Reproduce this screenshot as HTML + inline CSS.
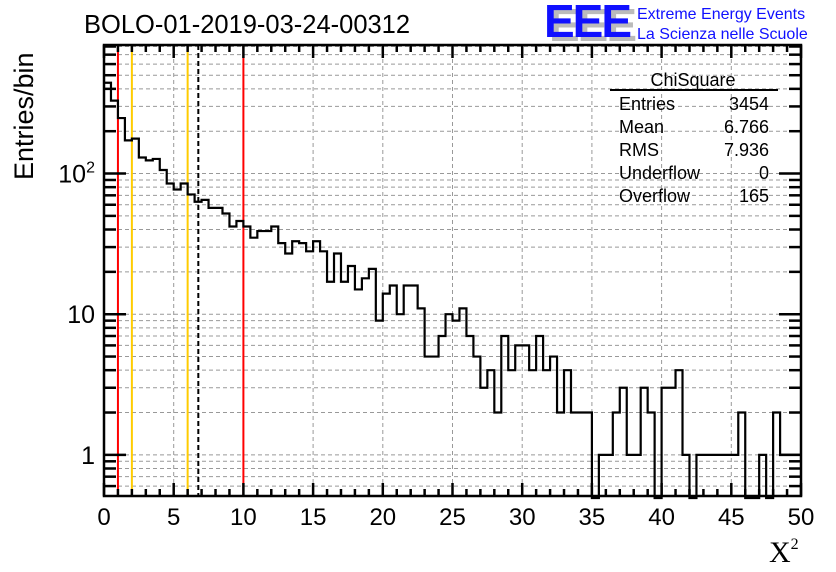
<!DOCTYPE html>
<html><head><meta charset="utf-8"><style>
html,body{margin:0;padding:0;background:#fff;}
svg{display:block;font-family:"Liberation Sans",Arial,sans-serif;}
</style></head><body>
<svg id="chart" width="836" height="572" viewBox="0 0 836 572">
<text x="84" y="33" font-size="25.5">BOLO-01-2019-03-24-00312</text>
<g>
<text x="549" y="41" font-size="46" font-weight="bold" fill="#bbb" letter-spacing="-2">EEE</text>
<text x="544" y="37" font-size="46" font-weight="bold" fill="#1010ff" letter-spacing="-2">EEE</text>
<text x="637" y="19" font-size="16" fill="#1010ff">Extreme Energy Events</text>
<text x="637" y="39" font-size="16" fill="#1010ff">La Scienza nelle Scuole</text>
</g>
<text transform="translate(33,180) rotate(-90)" font-size="27">Entries/bin</text>
<text x="769" y="562" font-size="30" font-family="Liberation Serif,serif">X<tspan font-size="16" dy="-13">2</tspan></text>
<g id="grid"></g><g id="vlines"></g><g id="hist"></g><g id="axes"></g>
<g font-size="18">
<text x="693" y="86" text-anchor="middle">ChiSquare</text>
<line x1="610" y1="90" x2="778" y2="90" stroke="#000" stroke-width="2"/>
<text x="619" y="110">Entries</text><text x="769" y="110" text-anchor="end">3454</text>
<text x="619" y="133">Mean</text><text x="769" y="133" text-anchor="end">6.766</text>
<text x="619" y="156">RMS</text><text x="769" y="156" text-anchor="end">7.936</text>
<text x="619" y="179">Underflow</text><text x="769" y="179" text-anchor="end">0</text>
<text x="619" y="202">Overflow</text><text x="769" y="202" text-anchor="end">165</text>
</g>
</svg>
<script>
const binEdgesMin = 0, binWidth = 0.5;
const counts = [442,330,248,172,177,130,124,127,106,85,77,85,71,63,65,57,57,52,42,46,
42,35,39,39,42,32,27,33,32,28,33,28,17,27,17,22,15,18,21,9,
14,16,10,16,16,11,5,5,7,10,9,11,7,5,3,4,2,7,4,6,
6,4,7,4,5,2,4,2,2,2,0,1,1,2,3,1,1,3,2,0,
3,3,4,1,0,1,1,1,1,1,1,2,0,0,1,0,2,1,1,1];
const refLines = [1,10];
const cutLines = [2,6];
const meanLine = [6.766];
const xTicks = [0,5,10,15,20,25,30,35,40,45,50];
const yLabels = [[1,"1"],[10,"10"],[100,"10²"]];
const NS="http://www.w3.org/2000/svg";
const L=104,R=801,T=45,B=496,X0=0,X1=50,Y0=0.51,Y1=820;
const xs=v=>L+(v-X0)/(X1-X0)*(R-L);
const ys=v=>B-(Math.log10(v)-Math.log10(Y0))/(Math.log10(Y1)-Math.log10(Y0))*(B-T);
function mk(p,t,a){const e=document.createElementNS(NS,t);for(const k in a)e.setAttribute(k,a[k]);p.appendChild(e);return e;}
const grid=document.getElementById('grid'),axes=document.getElementById('axes'),vl=document.getElementById('vlines'),hist=document.getElementById('hist');
for(let d=0.1;d<=1000;d*=10)for(let m=1;m<=9;m++){const v=d*m;if(v<Y0||v>Y1)continue;const y=ys(v);
const g=mk(grid,'line',{x1:L,x2:R,y1:y,y2:y,stroke:'#999','stroke-dasharray':'4,3','stroke-width':1});


const tl=(m==1)?22:12;
const t1=mk(axes,'line',{x1:L,x2:L+tl,y1:y,y2:y,stroke:'#000','stroke-width':2.5});


const t2=mk(axes,'line',{x1:R-tl,x2:R,y1:y,y2:y,stroke:'#000','stroke-width':2.5});

}
xTicks.forEach(v=>{if(v>0&&v<50){const g=mk(grid,'line',{x1:xs(v),x2:xs(v),y1:T,y2:B,stroke:'#999','stroke-dasharray':'4,3','stroke-width':1});

}
const t=mk(axes,'text',{x:xs(v),y:525,'font-size':24,'text-anchor':'middle'});t.textContent=v;

});
for(let v=0;v<=50;v++){const tl=v%5==0?13:7;
const a=mk(axes,'line',{x1:xs(v),x2:xs(v),y1:B-tl,y2:B,stroke:'#000','stroke-width':2.5});


const b=mk(axes,'line',{x1:xs(v),x2:xs(v),y1:T,y2:T+tl,stroke:'#000','stroke-width':2.5});

}
yLabels.forEach(([v,s])=>{const t=mk(axes,'text',{x:95,y:ys(v)+9,'font-size':25,'text-anchor':'end'});
if(s==="10²"){t.innerHTML='10<tspan font-size="16" dy="-10">2</tspan>';}else t.textContent=s;

});
refLines.forEach(v=>{const e=mk(vl,'line',{x1:xs(v),x2:xs(v),y1:T,y2:B,stroke:'#f00','stroke-width':2});

});
cutLines.forEach(v=>{const e=mk(vl,'line',{x1:xs(v),x2:xs(v),y1:T,y2:B,stroke:'#fc0','stroke-width':2});

});
meanLine.forEach(v=>{const e=mk(vl,'line',{x1:xs(v),x2:xs(v),y1:T,y2:B,stroke:'#000','stroke-width':2,'stroke-dasharray':'5,3'});

});
let d='';
counts.forEach((c,i)=>{const x0=xs(binEdgesMin+i*binWidth),x1=xs(binEdgesMin+(i+1)*binWidth);
const y=c>0?Math.max(T,ys(c)):B+2;
if(i==0)d+=`M${x0},${y}`;else d+=`L${x0},${y}`;d+=`L${x1},${y}`;});
const p=mk(hist,'path',{d:d,fill:'none',stroke:'#000','stroke-width':2.2});


const fr=mk(axes,'rect',{x:L,y:T,width:R-L,height:B-T,fill:'none',stroke:'#000','stroke-width':2.5});


</script>
</body></html>
